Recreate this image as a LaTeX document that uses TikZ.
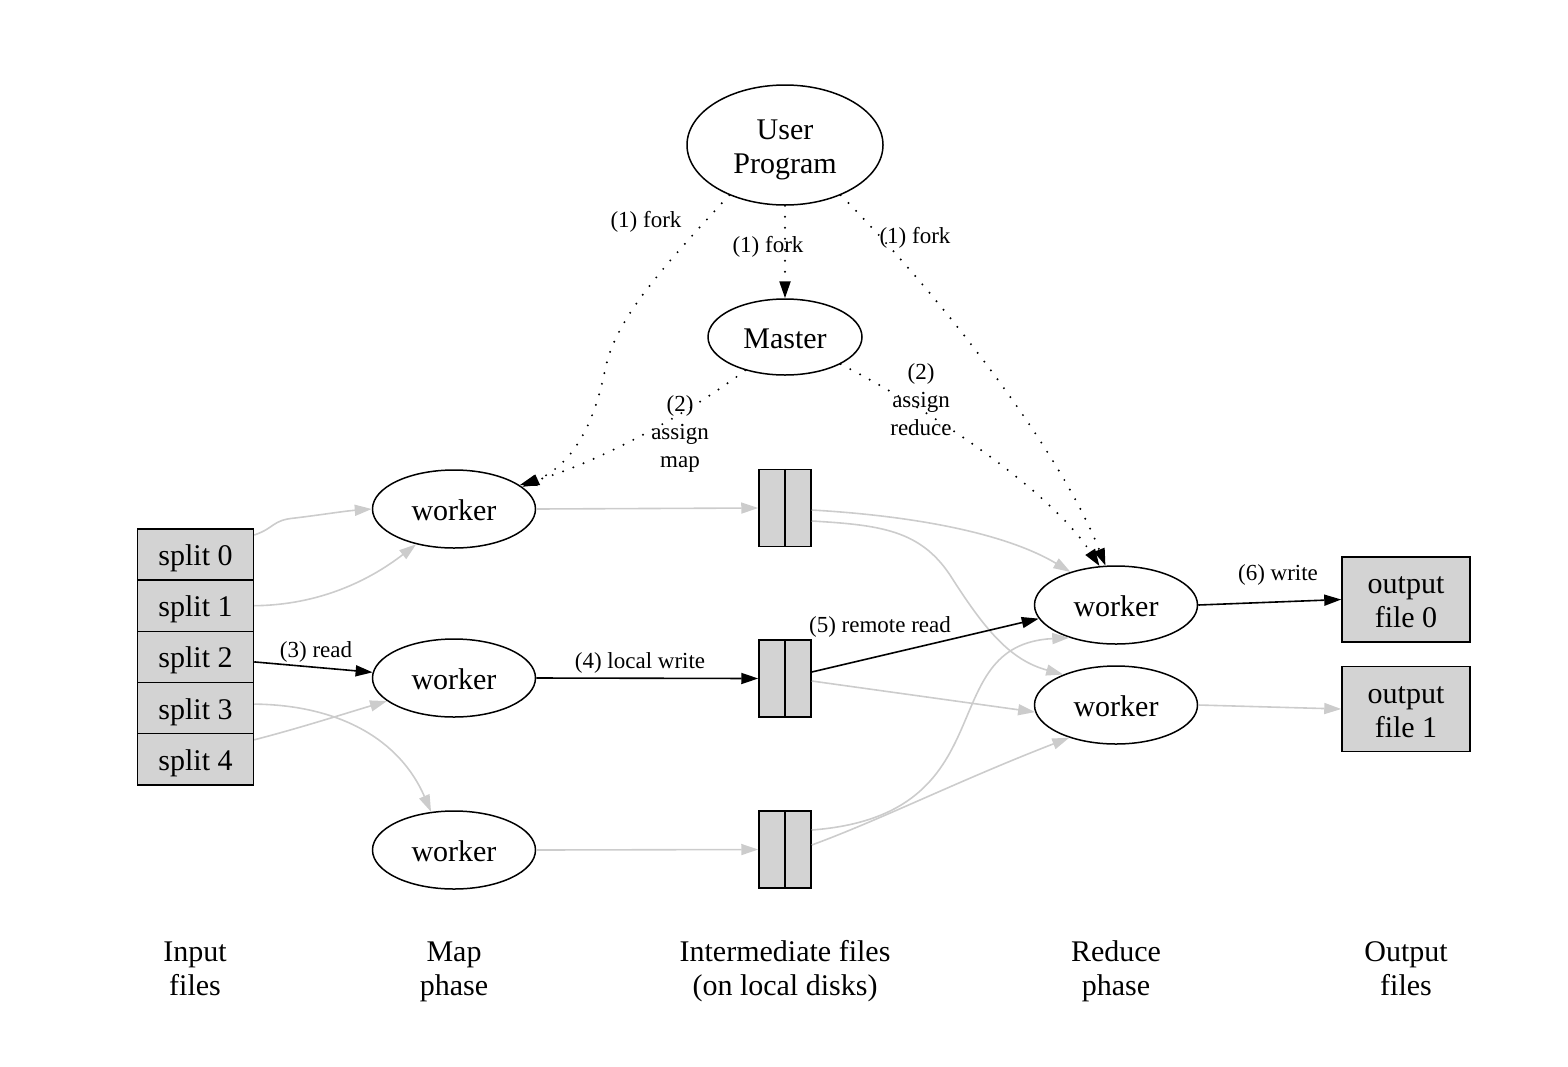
\documentclass[tikz,border=0pt]{standalone}
\usepackage{fontspec}
\setmainfont{Liberation Serif}
\usetikzlibrary{shapes.geometric,arrows.meta,calc}
\definecolor{boxgray}{HTML}{D3D3D3}
\definecolor{edgegray}{HTML}{CCCCCC}
\newcommand\topst{\rule{0pt}{30pt}}
\newcommand\botst{\rule[-8pt]{0pt}{8pt}}
\newcommand\topsm{\rule{0pt}{17pt}}
\newcommand\botsm{\rule[-3pt]{0pt}{3pt}}
\begin{document}
\begin{tikzpicture}[x=1pt,y=-1pt,
  bigfont/.style={font=\fontsize{30}{34}\selectfont},
  oneline/.style={text height=30pt,text depth=8pt},
  wk/.style={ellipse,draw,line width=1.5pt,inner sep=0pt,minimum width=163pt,minimum height=78pt,bigfont},
  splitbox/.style={rectangle,draw,line width=1.5pt,fill=boxgray,inner sep=0pt,minimum width=116pt,minimum height=51.2pt,bigfont,oneline},
  filebox/.style={rectangle,draw,line width=1.5pt,fill=boxgray,inner sep=0pt,minimum width=52pt,minimum height=77pt},
  outbox/.style={rectangle,draw,line width=1.5pt,fill=boxgray,inner sep=0pt,minimum width=128pt,minimum height=85pt,bigfont,align=center},
  lbl/.style={font=\fontsize{23}{28}\selectfont,align=center,inner sep=0pt},
  lblone/.style={lbl,text height=17pt,text depth=3pt},
  phase/.style={bigfont,align=center,inner sep=0pt},
  tip/.style={-{Triangle[length=17pt,width=11pt]}},
  gedge/.style={color=edgegray,line width=1.6pt,tip},
  bedge/.style={color=black,line width=1.6pt,tip},
  dotedge/.style={color=black,line width=2.2pt,line cap=round,dash pattern=on 0pt off 11pt,tip}
]
\useasboundingbox (0,0) rectangle (1568,1066);

% nodes
\node[wk,minimum width=196pt,minimum height=120pt,align=center] (up) at (785,145) {\topst User\\Program\botst};
\node[wk,minimum width=154pt,minimum height=76pt,oneline] (master) at (785,337) {Master};

\node[wk,oneline] (m1) at (454,509) {worker};
\node[wk,oneline] (m2) at (454,678) {worker};
\node[wk,oneline] (m3) at (454,850) {worker};

\node[wk,oneline] (r1) at (1116,605) {worker};
\node[wk,oneline] (r2) at (1116,705) {worker};

\node[splitbox] (s0) at (195.5,554.5) {split 0};
\node[splitbox] (s1) at (195.5,605.7) {split 1};
\node[splitbox] (s2) at (195.5,656.9) {split 2};
\node[splitbox] (s3) at (195.5,708.1) {split 3};
\node[splitbox] (s4) at (195.5,759.3) {split 4};

\node[filebox] (f1) at (785,508) {};
\node[filebox] (f2) at (785,678.5) {};
\node[filebox] (f3) at (785,849.5) {};
\foreach \f in {f1,f2,f3} \draw[line width=1.5pt] (\f.north) -- (\f.south);

\node[outbox] (o0) at (1406,599.5) {\topst output\\file 0\botst};
\node[outbox] (o1) at (1406,709) {\topst output\\file 1\botst};

% captions
\node[phase] (c1) at (195,967) {\topst Input\\files\botst};
\node[phase] (c2) at (454,967) {\topst Map\\phase\botst};
\node[phase] (c3) at (785,967) {\topst Intermediate files\\(on local disks)\botst};
\node[phase] (c4) at (1116,967) {\topst Reduce\\phase\botst};
\node[phase] (c5) at (1406,967) {\topst Output\\files\botst};

% dotted control edges
\draw[dotedge] (up.222) .. controls (660,270) and (615,320) .. (605,370) .. controls (593,430) and (570,465) .. (m1.18);
\draw[dotedge] (up.south) -- (master.north);
\draw[dotedge] (up.318) .. controls (940,295) and (1060,450) .. (r1.105);
\draw[dotedge] (master.220) .. controls (680,420) and (590,465) .. (m1.20);
\draw[dotedge] (master.334) .. controls (930,410) and (1050,490) .. (r1.113);

% input splits to map workers
\draw[gedge] ($(s0.east)+(0,-19.5)$) .. controls (275,528) and (272,520) .. (295,518) .. controls (320,515) and (345,511) .. (m1.west);
\draw[gedge] (s1.east) .. controls (320,605) and (370,580) .. (m1.223);
\draw[bedge] ($(s2.east)+(0,5)$) -- (m2.176);
\draw[gedge] ($(s3.east)+(0,-4)$) .. controls (340,705) and (400,740) .. (m3.121);
\draw[gedge] ($(s4.east)+(0,-19.5)$) .. controls (300,728) and (350,712) .. (m2.199);

% map workers to intermediate files
\draw[gedge] (m1.east) -- (f1.west);
\draw[bedge] (m2.east) -- (f2.west);
\draw[gedge] (m3.east) -- (f3.west);

% intermediate files to reduce workers
\draw[gedge] ($(f1.east)+(0,2)$) .. controls (900,515) and (1000,530) .. (r1.144);
\draw[gedge] ($(f1.east)+(0,13)$) .. controls (880,525) and (920,530) .. (950,575) .. controls (985,630) and (1010,660) .. (r2.150);
\draw[bedge] ($(f2.east)+(0,-6.5)$) -- (r1.190);
\draw[gedge] ($(f2.east)+(0,2.5)$) -- (r2.185);
\draw[gedge] ($(f3.east)+(0,-19.5)$) .. controls (1010,815) and (930,645) .. (r1.215);
\draw[gedge] ($(f3.east)+(0,-4.5)$) .. controls (880,820) and (960,780) .. (r2.215);

% reduce workers to output
\draw[bedge] (r1.east) -- (o0.west);
\draw[gedge] (r2.east) -- (o1.west);

% edge labels
\node[lblone] (l1) at (646,220) {(1) fork};
\node[lblone] (l2) at (768,245) {(1) fork};
\node[lblone] (l3) at (915,236) {(1) fork};
\node[lbl] (l4) at (680,433) {\topsm(2)\\assign\\map\botsm};
\node[lbl] (l5) at (921,400) {\topsm(2)\\assign\\reduce\botsm};
\node[lblone] (l6) at (316,650) {(3) read};
\node[lblone] (l7) at (640,661) {(4) local write};
\node[lblone] (l8) at (880,625) {(5) remote read};
\node[lblone] (l9) at (1278,573) {(6) write};
\end{tikzpicture}
\end{document}
